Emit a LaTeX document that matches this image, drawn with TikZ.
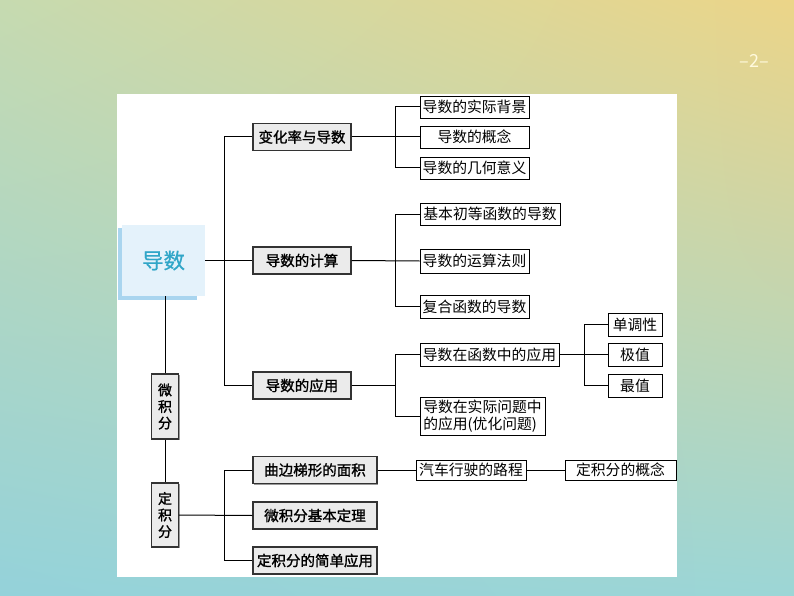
\documentclass[tikz,border=0pt]{standalone}
\usepackage{fontspec}
\setmainfont{Noto Sans CJK SC}
\newfontfamily\midfont{Noto Sans CJK SC}[FakeBold=1.3]
\usepackage{xcolor}
\usepackage{tikz}
\usetikzlibrary{shadows,shadings,calc}
\definecolor{bgTL}{RGB}{198,218,176}
\definecolor{bgTR}{RGB}{236,213,136}
\definecolor{bgBL}{RGB}{148,210,218}
\definecolor{bgBR}{RGB}{156,214,214}
\definecolor{mainFill}{HTML}{E4F2FB}
\definecolor{mainEdge}{HTML}{A9D5EF}
\definecolor{mainText}{RGB}{48,166,200}
\definecolor{midFill}{HTML}{EBEBEB}
\definecolor{pageText}{RGB}{255,250,222}

\begin{document}
\begin{tikzpicture}[x=1pt,y=-1pt,font=\fontsize{14.5}{16}\selectfont,
  mainbox/.style={fill=mainFill,minimum width=83pt,minimum height=71pt,
                  text=mainText,font=\fontsize{21.5}{24}\selectfont\addfontfeature{FakeBold=0.6}},
  midbox/.style={draw=black!80,fill=midFill,line width=1.1pt,inner sep=0pt,
                 minimum height=27pt,font=\midfont\fontsize{14.5}{16}\selectfont,
                 drop shadow={shadow xshift=1pt,shadow yshift=-1pt,fill=black!40,opacity=1}},
  vbox/.style={midbox,minimum width=27pt,align=center,
               font=\midfont\fontsize{14}{16.5}\selectfont},
  leaf/.style={draw=black,fill=white,line width=0.9pt,inner sep=0pt,
               minimum height=22pt,font=\fontsize{14.8}{16}\selectfont,
               drop shadow={shadow xshift=1pt,shadow yshift=-1pt,fill=black!35,opacity=1}},
  link/.style={line width=1pt,black}]

% background and panel
\shade[upper left=bgTL,upper right=bgTR,lower left=bgBL,lower right=bgBR]
  (0,0) rectangle (794,596);
\fill[white] (117,94) rectangle (677,577);
\node[text=pageText,font=\fontsize{18}{20}\selectfont] (pageno) at (754,61) {–2–};

% root and left column
\node[mainbox] (daoshu) at (163.5,260.5) {导数};
\draw[line width=3.5pt,mainEdge]
  ([xshift=-2pt,yshift=-3pt]daoshu.north west) |- ([xshift=-8pt,yshift=-2pt]daoshu.south east);
\node[vbox,minimum height=65pt] (weijifen) at (165,406.5) {微\\积\\分};
\node[vbox,minimum height=64pt] (dingjifen) at (165,515) {定\\积\\分};

% second level
\node[midbox,minimum width=98pt] (bianhua) at (302,137) {变化率与导数};
\node[midbox,minimum width=98pt] (jisuan) at (302,260.5) {导数的计算};
\node[midbox,minimum width=98pt] (yingyong) at (302,385.5) {导数的应用};
\node[midbox,minimum width=124pt] (qubian) at (315,470) {曲边梯形的面积};
\node[midbox,minimum width=124pt] (dingli) at (315,515.5) {微积分基本定理};
\node[midbox,minimum width=124pt] (jianyong) at (315,560.5) {定积分的简单应用};

% third level
\node[leaf,minimum width=109pt] (beijing) at (474.5,107) {导数的实际背景};
\node[leaf,minimum width=109pt] (gainian) at (474.5,137) {导数的概念};
\node[leaf,minimum width=109pt] (jihe) at (474.5,168) {导数的几何意义};
\node[leaf,minimum width=140pt] (jichu) at (490,214) {基本初等函数的导数};
\node[leaf,minimum width=109pt,minimum height=24pt] (yunsuan) at (474.5,261) {导数的运算法则};
\node[leaf,minimum width=109pt,minimum height=23pt] (fuhe) at (474.5,306.5) {复合函数的导数};
\node[leaf,minimum width=139pt,minimum height=23pt] (hanshu) at (489.5,354.5) {导数在函数中的应用};
\node[leaf,minimum width=125pt,minimum height=38pt,align=left,
      font=\fontsize{14.8}{16.5}\selectfont] (shiji) at (482.5,416) {导数在实际问题中\\的应用(优化问题)};
\node[leaf,minimum width=54pt,minimum height=23pt] (dandiao) at (635,324.5) {单调性};
\node[leaf,minimum width=54pt,minimum height=23pt] (jizhi) at (635,354.5) {极值};
\node[leaf,minimum width=54pt,minimum height=23pt] (zuizhi) at (635,385.5) {最值};
\node[leaf,minimum width=110pt,minimum height=20pt] (qiche) at (471,470) {汽车行驶的路程};
\node[leaf,minimum width=111pt,minimum height=20pt] (jfgainian) at (620.5,470) {定积分的概念};

% connectors
\draw[link] (daoshu.east) -- (jisuan.west);
\draw[link] (bianhua.west) -- ++(-28,0) |- (yingyong.west);
\draw[link] (weijifen.north) -- (weijifen.north |- daoshu.south);
\draw[link] (weijifen.south) -- (dingjifen.north);
\draw[link] (dingjifen.east) -- (dingli.west);
\draw[link] (qubian.west) -- ++(-28,0) |- (jianyong.west);
\draw[link] (bianhua.east) -- (gainian.west);
\draw[link] (beijing.west) -- ++(-24,0) |- (jihe.west);
\draw[link] (jisuan.east) -- (yunsuan.west);
\draw[link] (jichu.west) -- ++(-24,0) |- (fuhe.west);
\draw[link] (hanshu.west) -- ++(-24,0) coordinate (bus) |- (shiji.west);
\draw[link] (yingyong.east) -- (yingyong.east -| bus);
\draw[link] (hanshu.east) -- (jizhi.west);
\draw[link] (dandiao.west) -- ++(-23,0) |- (zuizhi.west);
\draw[link] (qubian.east) -- (qiche.west);
\draw[link] (qiche.east) -- (jfgainian.west);
\end{tikzpicture}
\end{document}
